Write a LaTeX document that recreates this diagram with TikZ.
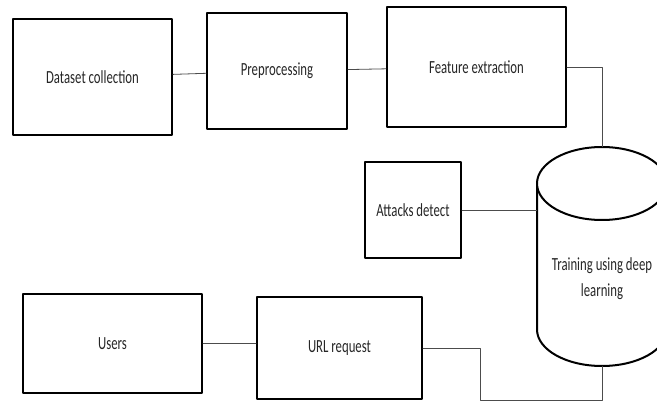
\documentclass[tikz,border=0pt]{standalone}
\usepackage{fontspec}
\setmainfont{Carlito}[FakeStretch=0.69]
\begin{document}
\begin{tikzpicture}[line cap=round,line join=round,x=1pt,y=-1pt,
		box/.style={draw,line width=2pt,rectangle,inner sep=0pt},
		link/.style={draw=black!70,line width=0.8pt},
		every node/.style={font=\fontsize{18.5}{26}\selectfont,text=black!85}]
		\useasboundingbox (0,0) rectangle (657,401);
		\node[box,minimum width=159,minimum height=116] (dataset) at (92.5,77) {Dataset collection};
		\node[box,minimum width=140,minimum height=116] (prep) at (277,71) {Preprocessing};
		\node[box,minimum width=179,minimum height=120] (feature) at (476.5,67) {Feature extraction};
		\node[box,minimum width=96,minimum height=96] (attacks) at (413,210) {Attacks detect};
		\node[box,minimum width=179,minimum height=99] (users) at (112.5,343.5) {Users};
		\node[box,minimum width=165,minimum height=102] (url) at (339.5,348) {URL request};
		% cylinder
		\node[minimum width=130,minimum height=219,inner sep=0pt] (train) at (602,256.5) {};
		\draw[line width=2pt] (537,183.5) -- (537,329.5) arc[start angle=180,end angle=0,x radius=65,y radius=36.5] -- (667,183.5);
		\draw[line width=2pt,fill=white] (602,183.5) ellipse[x radius=65,y radius=36.5];
		\node[align=center] (traintext) at (602,278.5) {Training using deep\\learning};
		\coordinate (turn) at (480,400);
		\draw[link] (dataset) -- (prep);
		\draw[link] (prep) -- (feature);
		\draw[link] (feature.east) -| (train.north);
		\draw[link] (attacks.east) -- (attacks.east -| train.west);
		\draw[link] (users.east) -- (users.east -| url.west);
		\draw[link] (url.east) -| (turn) -| (train.south);
	\end{tikzpicture}
\end{document}
